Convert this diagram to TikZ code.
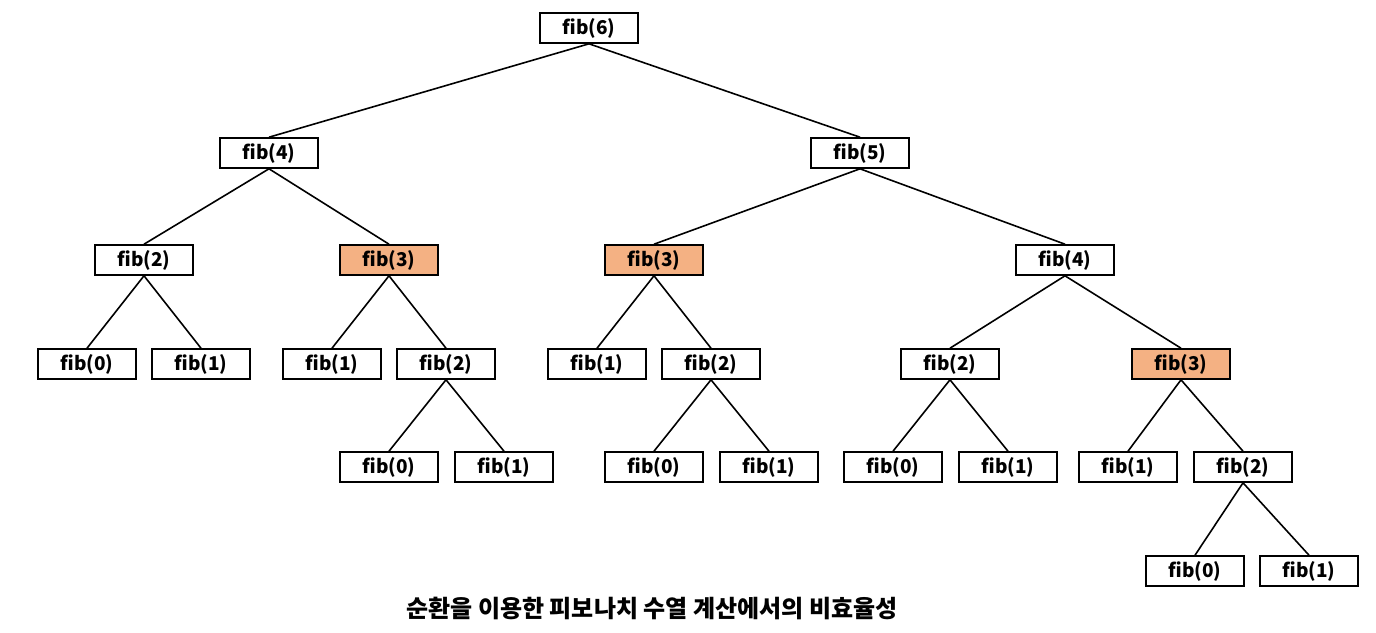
\documentclass[tikz,border=0pt]{standalone}
\usepackage{fontspec}
\setmainfont{Noto Sans CJK KR}
\definecolor{repeatfill}{RGB}{244,177,131}
\tikzstyle{call}=[draw, line width=1.6pt, minimum width=98pt, minimum height=30pt, inner sep=0pt, font=\fontsize{19}{21}\selectfont\bfseries]
\tikzstyle{repeated call}=[call, fill=repeatfill]
\tikzstyle{edge}=[line width=1.6pt]

\begin{document}
\begin{tikzpicture}[x=1pt, y=-1pt]
      \useasboundingbox (0, 0) rectangle (1376, 632);
      % root
      \node[call] (f6) at (589, 28) {fib(6)};
      % level 1
      \node[call] (f4) at (269, 153) {fib(4)};
      \node[call] (f5) at (860, 153) {fib(5)};
      % level 2
      \node[call] (f42) at (144, 260) {fib(2)};
      \node[repeated call] (f43) at (389, 260) {fib(3)};
      \node[repeated call] (f53) at (654, 260) {fib(3)};
      \node[call] (f54) at (1065, 260) {fib(4)};
      % level 3
      \node[call] (f420) at (87, 364) {fib(0)};
      \node[call] (f421) at (201, 364) {fib(1)};
      \node[call] (f431) at (332, 364) {fib(1)};
      \node[call] (f432) at (446, 364) {fib(2)};
      \node[call] (f531) at (597, 364) {fib(1)};
      \node[call] (f532) at (711, 364) {fib(2)};
      \node[call] (f542) at (950, 364) {fib(2)};
      \node[repeated call] (f543) at (1181, 364) {fib(3)};
      % level 4
      \node[call] (f4320) at (389, 467) {fib(0)};
      \node[call] (f4321) at (504, 467) {fib(1)};
      \node[call] (f5320) at (654, 467) {fib(0)};
      \node[call] (f5321) at (769, 467) {fib(1)};
      \node[call] (f5420) at (893, 467) {fib(0)};
      \node[call] (f5421) at (1008, 467) {fib(1)};
      \node[call] (f5431) at (1128, 467) {fib(1)};
      \node[call] (f5432) at (1243, 467) {fib(2)};
      % level 5
      \node[call] (f54320) at (1195, 571) {fib(0)};
      \node[call] (f54321) at (1309, 571) {fib(1)};
      % caption
      \node[font=\fontsize{24}{26}\selectfont\bfseries] (caption) at (652, 608) {순환을 이용한 피보나치 수열 계산에서의 비효율성};

      \draw[edge] (f6.south) -- (f4.north);
      \draw[edge] (f6.south) -- (f5.north);
      \draw[edge] (f4.south) -- (f42.north);
      \draw[edge] (f4.south) -- (f43.north);
      \draw[edge] (f5.south) -- (f53.north);
      \draw[edge] (f5.south) -- (f54.north);
      \draw[edge] (f42.south) -- (f420.north);
      \draw[edge] (f42.south) -- (f421.north);
      \draw[edge] (f43.south) -- (f431.north);
      \draw[edge] (f43.south) -- (f432.north);
      \draw[edge] (f53.south) -- (f531.north);
      \draw[edge] (f53.south) -- (f532.north);
      \draw[edge] (f54.south) -- (f542.north);
      \draw[edge] (f54.south) -- (f543.north);
      \draw[edge] (f432.south) -- (f4320.north);
      \draw[edge] (f432.south) -- (f4321.north);
      \draw[edge] (f532.south) -- (f5320.north);
      \draw[edge] (f532.south) -- (f5321.north);
      \draw[edge] (f542.south) -- (f5420.north);
      \draw[edge] (f542.south) -- (f5421.north);
      \draw[edge] (f543.south) -- (f5431.north);
      \draw[edge] (f543.south) -- (f5432.north);
      \draw[edge] (f5432.south) -- (f54320.north);
      \draw[edge] (f5432.south) -- (f54321.north);
    \end{tikzpicture}
\end{document}
